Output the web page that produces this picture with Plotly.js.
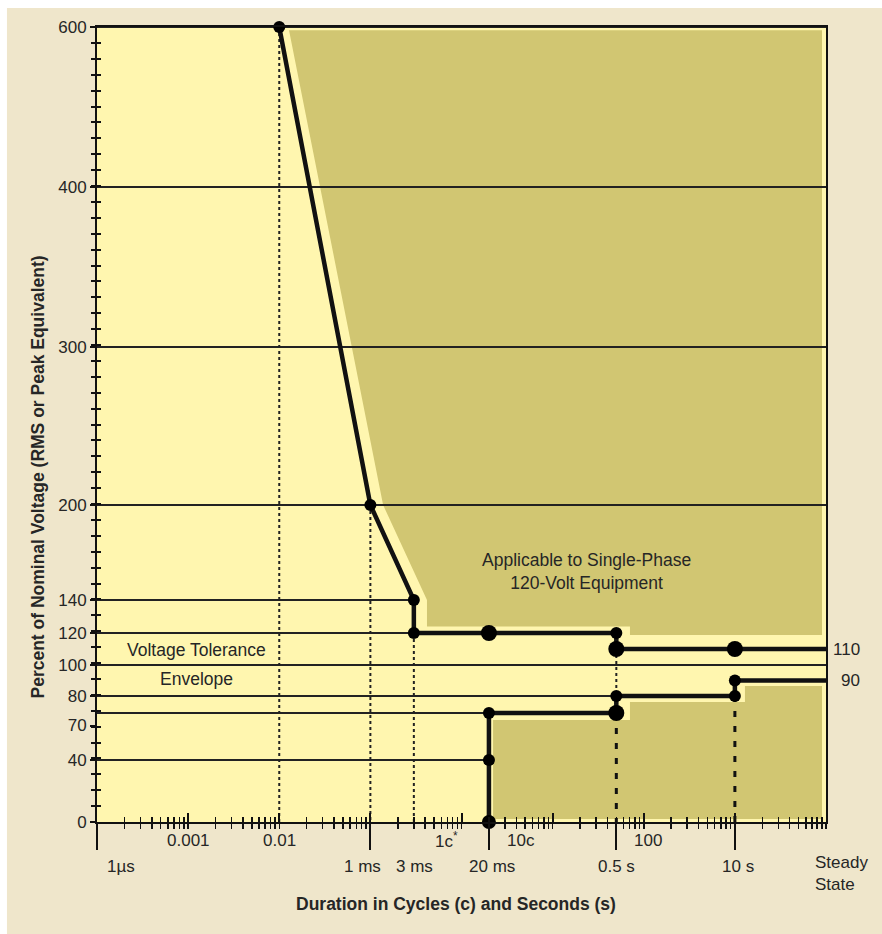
<!DOCTYPE html>
<html><head><meta charset="utf-8">
<script src="https://cdn.plot.ly/plotly-3.0.1.min.js"></script>
<style>html,body{margin:0;padding:0;background:#fff}</style>
</head><body><div id="chart" style="width:882px;height:934px"></div>
<script>
// ---- nonlinear y scale of the chart (value -> axis position) ----
const yScaleValues = [0, 40, 70, 80, 100, 120, 140, 200, 300, 400, 600];
const yScalePos    = [0, 62, 109, 126, 157, 189, 222, 317, 475, 635, 795];

// ---- y tick labels ----
const yTickText    = ['0','40','70','80','100','120','140','200','300','400','600'];
const yTickLabelAt = [0, 40, 62, 80, 100, 120, 140, 200, 300, 400, 600];

// ---- x axis labels (seconds) ----
const cycleLabels  = ['0.001','0.01','1c<sup>*</sup>','10c','100'];
const cycleLabelAt = [1e-5, 1e-4, 1e-2, 1e-1, 1];
const timeLabels   = ['1µs','1 ms','3 ms','20 ms','0.5 s','10 s','Steady<br>State'];
const timeLabelAt  = [1e-6, 1e-3, 3e-3, 0.02, 0.5, 10, 100];
const timeTicks    = [1e-6, 1e-3, 0.02, 0.5, 10];

// ---- ITIC curves (seconds, percent) ----
const upperCurveX = [1e-4, 1e-3, 3e-3, 3e-3, 0.5, 0.5, 100];
const upperCurveY = [600, 200, 140, 120, 120, 110, 110];
const lowerCurveX = [0.02, 0.02, 0.5, 0.5, 10, 10, 100];
const lowerCurveY = [0, 70, 70, 80, 80, 90, 90];

// ---- marked points ----
const pointX = [1e-4, 1e-3, 3e-3, 3e-3, 0.02, 0.5, 0.5, 10, 0.02, 0.02, 0.02, 0.5, 0.5, 10, 10];
const pointY = [600, 200, 140, 120, 120, 120, 110, 110, 0, 40, 70, 70, 80, 80, 90];

// ---- reference levels (level, right end in seconds) ----
const levelY   = [600, 400, 300, 200, 140, 120, 100, 80, 70, 40];
const levelEnd = [100, 100, 100, 100, 3e-3, 3e-3, 100, 0.5, 0.02, 0.02];

// ---- drop lines ----
const dotDropX      = [1e-4, 1e-3, 3e-3, 0.5];
const dotDropTop    = [600, 200, 120, 110];
const dotDropBottom = [0, 0, 0, 80];
const dashDropX     = [0.5, 10];
const dashDropTop   = [70, 80];

// ---- shaded zones ----
const upperZoneX = [1.28e-4, 1.38e-3, 4.18e-3, 4.18e-3, 0.706, 0.706, 90.4, 90.4];
const upperZoneY = [596, 200, 140, 124, 124, 118.8, 118.8, 596];
const lowerZoneX = [0.0222, 0.706, 0.706, 12.9, 12.9, 90.4, 90.4, 0.0222];
const lowerZoneY = [65.5, 65.5, 76.5, 76.5, 86.5, 86.5, 1.9, 1.9];

// ---------------------------------------------------------------
function yPos(v){
  if (v === null) return null;
  for (let i = 1; i < yScaleValues.length; i++){
    if (v <= yScaleValues[i]){
      const a = yScaleValues[i-1], b = yScaleValues[i];
      return yScalePos[i-1] + (v - a) / (b - a) * (yScalePos[i] - yScalePos[i-1]);
    }
  }
  return yScalePos[yScalePos.length-1];
}
const YMAX = yScalePos[yScalePos.length-1];

const BEIGE = '#EFE6CB', PALE = '#FFF6AF', OLIVE = '#D1C672', INK = '#111111', TXT = '#262626';
const FONT = 'Liberation Sans, Arial, Helvetica, sans-serif';

// minor tick positions
const minorX = [];
for (let e = -6; e <= 1; e++) for (let k = 2; k <= 9; k++) minorX.push(k * Math.pow(10, e));
const decadeX = [1e-5, 1e-4, 1e-3, 1e-2, 1e-1, 1, 10, 100];
const minorY = [];
for (let k = 0; k <= 50; k++) minorY.push(k * YMAX / 50);

// level lines with gaps
const lvX = [], lvY = [];
levelY.forEach((v, i) => { lvX.push(1e-6, levelEnd[i], null); lvY.push(yPos(v), yPos(v), null); });
const dotX = [], dotY = [];
dotDropX.forEach((x, i) => { dotX.push(x, x, null); dotY.push(yPos(dotDropTop[i]), yPos(dotDropBottom[i]), null); });
const dashX = [], dashY = [];
dashDropX.forEach((x, i) => { dashX.push(x, x, null); dashY.push(yPos(dashDropTop[i]), 0, null); });

const pointSize = [12, 12, 12, 12, 16, 12, 16, 16, 14, 12, 12, 16, 12, 12, 12];

const traces = [
  {x: upperZoneX, y: upperZoneY.map(yPos), type: 'scatter', mode: 'lines', fill: 'toself',
   fillcolor: OLIVE, line: {width: 0, color: OLIVE}, hoverinfo: 'skip'},
  {x: lowerZoneX, y: lowerZoneY.map(yPos), type: 'scatter', mode: 'lines', fill: 'toself',
   fillcolor: OLIVE, line: {width: 0, color: OLIVE}, hoverinfo: 'skip'},
  {x: lvX, y: lvY, type: 'scatter', mode: 'lines', line: {color: '#222', width: 2}, connectgaps: false},
  {x: dotX, y: dotY, type: 'scatter', mode: 'lines', line: {color: '#222', width: 2, dash: 'dot'}, connectgaps: false},
  {x: dashX, y: dashY, type: 'scatter', mode: 'lines', line: {color: INK, width: 3, dash: '6px,9px'}, connectgaps: false},
  {x: upperCurveX, y: upperCurveY.map(yPos), type: 'scatter', mode: 'lines', line: {color: INK, width: 4.5}, cliponaxis: false},
  {x: lowerCurveX, y: lowerCurveY.map(yPos), type: 'scatter', mode: 'lines', line: {color: INK, width: 4.5}, cliponaxis: false},
  {x: pointX, y: pointY.map(yPos), type: 'scatter', mode: 'markers', cliponaxis: false,
   marker: {color: '#000000', opacity: 1, size: pointSize, line: {width: 0}}},
  {x: [], y: [], xaxis: 'x2', yaxis: 'y2', type: 'scatter', mode: 'lines', hoverinfo: 'skip'}
];

const tickFont = {family: FONT, size: 17, color: TXT};
const annotations = [];
cycleLabels.forEach((t, i) => annotations.push({
  text: t, x: Math.log10(cycleLabelAt[i]), xref: 'x', y: 0, yref: 'paper',
  xanchor: 'center', yanchor: 'middle', yshift: -18, xshift: [0, 0, -15, -32, 4][i],
  showarrow: false, font: tickFont}));
const timeShift = [8, -8, 1, 3, 0, 3, -13];
const timeAnchor = ['left','center','center','center','center','center','left'];
timeLabels.forEach((t, i) => annotations.push({
  text: t, x: Math.log10(timeLabelAt[i]), xref: 'x', y: 0, yref: 'paper',
  xanchor: timeAnchor[i], yanchor: 'middle', align: 'left',
  yshift: i === 6 ? -51 : -44, xshift: timeShift[i],
  showarrow: false, font: tickFont}));
[110, 90].forEach(v => annotations.push({
  text: String(v), x: 1, xref: 'paper', y: yPos(v), yref: 'y', xanchor: 'right', yanchor: 'middle',
  xshift: 36, showarrow: false, font: tickFont}));
annotations.push({text: 'Applicable to Single-Phase<br>120-Volt Equipment', x: Math.log10(0.238), xref: 'x',
  y: yPos(158), yref: 'y', showarrow: false, font: {family: FONT, size: 17.5, color: TXT}, align: 'center'});
annotations.push({text: 'Voltage Tolerance', x: Math.log10(1.25e-5), xref: 'x', y: yPos(109.4), yref: 'y',
  showarrow: false, font: {family: FONT, size: 17.5, color: TXT}});
annotations.push({text: 'Envelope', x: Math.log10(1.25e-5), xref: 'x', y: yPos(91), yref: 'y',
  showarrow: false, font: {family: FONT, size: 17.5, color: TXT}});
annotations.push({text: '<b>Duration in Cycles (c) and Seconds (s)</b>', x: 0.4931, xref: 'paper', y: 0, yref: 'paper',
  yshift: -82, yanchor: 'middle', showarrow: false, font: {family: FONT, size: 17.5, color: TXT}});
annotations.push({text: '<b>Percent of Nominal Voltage (RMS or Peak Equivalent)</b>', x: 0, xref: 'paper',
  xshift: -71, y: 0.4333, yref: 'paper', textangle: -90, showarrow: false,
  font: {family: FONT, size: 17.5, color: TXT}});

const layout = {
  width: 882, height: 934,
  margin: {l: 97, r: 56, t: 27, b: 112, pad: 0},
  paper_bgcolor: '#ffffff', plot_bgcolor: 'rgba(0,0,0,0)',
  showlegend: false,
  xaxis: {type: 'log', range: [-6, 2], showgrid: false, zeroline: false,
    showline: true, linecolor: INK, linewidth: 2, mirror: true,
    tickmode: 'array', tickvals: timeTicks, showticklabels: false,
    ticks: 'outside', ticklen: 26, tickwidth: 2, tickcolor: INK,
    minor: {tickmode: 'array', tickvals: minorX.concat(decadeX), ticks: 'outside', ticklen: 5, tickwidth: 1.5, tickcolor: INK, showgrid: false}},
  xaxis2: {type: 'log', range: [-6, 2], overlaying: 'x', anchor: 'y2', side: 'bottom',
    showgrid: false, zeroline: false, showline: false, showticklabels: false,
    tickmode: 'array', tickvals: decadeX, ticks: 'inside', ticklen: 9, tickwidth: 2, tickcolor: INK,
    minor: {tickmode: 'array', tickvals: minorX, ticks: 'inside', ticklen: 5, tickwidth: 1.5, tickcolor: INK, showgrid: false}},
  yaxis: {range: [0, YMAX], showgrid: false, zeroline: false,
    showline: true, linecolor: INK, linewidth: 2, mirror: true,
    tickmode: 'array', tickvals: yTickLabelAt.map(yPos), ticktext: yTickText,
    ticks: 'outside', ticklen: 5, tickwidth: 2, tickcolor: INK, tickfont: tickFont,
    minor: {tickmode: 'array', tickvals: minorY, ticks: 'outside', ticklen: 4, tickwidth: 2, tickcolor: INK, showgrid: false}},
  yaxis2: {range: [0, YMAX], overlaying: 'y', anchor: 'x2', side: 'left',
    showgrid: false, zeroline: false, showline: false, showticklabels: false,
    tickmode: 'array', tickvals: minorY, ticks: 'inside', ticklen: 4, tickwidth: 2, tickcolor: INK},
  shapes: [
    {type: 'rect', xref: 'paper', yref: 'paper', x0: -0.1235, x1: 1.1, y0: -0.16, y1: 1.0239,
     fillcolor: BEIGE, line: {width: 0}, layer: 'below'},
    {type: 'rect', xref: 'paper', yref: 'paper', x0: 0, x1: 1, y0: 0, y1: 1,
     fillcolor: PALE, line: {width: 0}, layer: 'below'}
  ],
  annotations: annotations
};

Plotly.newPlot('chart', traces, layout, {displayModeBar: false, staticPlot: true});
</script>
</body></html>
